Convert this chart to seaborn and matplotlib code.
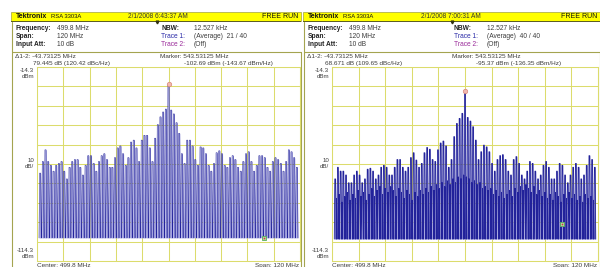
import matplotlib
matplotlib.use("Agg")
import matplotlib.pyplot as plt
import seaborn as sns
import pandas as pd
from matplotlib.patches import Rectangle

# analyzer settings
center_mhz = 499.8
span_mhz = 120.0
spike_step = 1.22
ref_top = -14.3
ref_bottom = -114.3
marker1_mhz = 543.53125

# comb line levels (dBm), one per spectral line, left to right
left_levels = [
    -69, -63, -57, -63, -65, -68, -65, -64, -63, -68,
    -72, -66, -63, -62, -62, -66, -70, -65, -60, -60,
    -64, -68, -63, -60, -59, -62, -66, -66, -61, -56,
    -55, -59, -65, -61, -53, -52, -56, -63, -52, -49.5,
    -49.5, -56, -63, -51, -44, -40, -37.5, -36,
    -23.2,
    -36.5, -38.5, -43, -48.5, -59, -64, -52, -52, -55, -62,
    -65, -55.5, -56, -59, -65, -68, -64, -58.5, -57.5, -59,
    -65, -66, -61, -60, -62, -66, -68, -63, -59, -58,
    -63, -68, -65, -60, -60, -61, -66, -68, -63, -61,
    -62, -64, -68, -63, -57, -58, -61, -66,
]
right_levels = [
    -72, -66, -68, -68, -70, -74, -74, -70, -68, -70,
    -74, -72, -67, -66.5, -68, -72, -70, -66, -65, -66,
    -70, -70, -66, -62, -62, -66, -68, -66, -61, -58.5,
    -62.3, -66, -64, -58.5, -55.8, -56.7, -62, -63, -57, -53.5,
    -52.5, -55, -66, -62, -50.2, -43.4, -40.8, -38.2,
    -26.7,
    -40.3, -42.2, -45.1, -52, -62, -58, -54.6, -55.5, -58, -64,
    -68, -62, -60, -59.5, -62, -68, -70, -62, -60.5, -64,
    -70, -72, -68, -63, -64, -68, -72, -70, -65, -63,
    -66, -72, -72, -68, -64, -65, -70, -74, -70, -66,
    -64, -66, -72, -70, -65, -60, -62, -66,
]
# averaged trace: residue between comb lines (right screen only)
right_between = [
    -82, -80, -84, -81, -79, -83, -80, -82, -78, -81,
    -79, -83, -80, -77, -81, -78, -76, -80, -77, -79,
    -76, -78, -81, -77, -79, -82, -78, -80, -83, -79,
    -81, -78, -80, -77, -79, -76, -78, -75, -77, -74,
    -76, -73, -75, -72, -74, -71, -72, -70,
    -71, -72, -74, -73, -75, -74, -77, -76,
    -78, -77, -80, -78, -81, -79, -82, -80, -78, -81,
    -77, -79, -76, -78, -75, -77, -79, -76, -80, -78,
    -81, -79, -82, -80, -83, -79, -81, -84, -80, -82,
    -79, -82, -80, -83, -81, -84, -80, -82, -81, -83,
]
left_floor = -102.4
right_floor = -103.0
left_marker1 = -102.69
right_marker1 = -95.37

dates = ["2/1/2008 6:43:37 AM", "2/1/2008 7:00:31 AM"]
averages = ["(Average)  21 / 40", "(Average)  40 / 40"]
delta_lines = ["79.445 dB (120.42 dBc/Hz)", "68.671 dB (109.65 dBc/Hz)"]
marker_lines = ["-102.69 dBm (-143.67 dBm/Hz)", "-95.37 dBm (-136.35 dBm/Hz)"]

W, H = 600, 267
OLIVE = "#a4a450"
GRID = "#dcdc6c"
LAV = "#a4a4e0"
NAVY = "#22229a"
TXT = "#3c3c3c"

sns.set_style("white")
plt.rcParams["font.family"] = ["Liberation Sans", "DejaVu Sans"]

fig = plt.figure(figsize=(6, 2.67), dpi=100)
bg = fig.add_axes([0, 0, 1, 1])
bg.set_xlim(0, W)
bg.set_ylim(H, 0)
bg.axis("off")


def build_trace(levels, between, floor):
    mid = len(levels) // 2
    xs, ys = [], []
    if between is None:
        base, top = 0.52, 0.26
    else:
        base, top = 0.40, 0.18
    for i, lvl in enumerate(levels):
        f = center_mhz + (i - mid) * spike_step
        xs += [f - base, f - top, f + top, f + base]
        ys += [floor, lvl, lvl, floor]
        if between is not None and i < len(between):
            g = f + spike_step / 2
            xs += [g - 0.16, g, g + 0.16]
            ys += [floor, between[i], floor]
    return pd.DataFrame({"freq": xs, "dbm": ys})


def draw_panel(idx, x0, x1, px0, px1, levels, between, floor, m1):
    dx = x0 - 12
    # header bar
    bg.add_patch(Rectangle((x0 - 1, 11.5), x1 - x0 + 1, 9, facecolor="#ffff00",
                           edgecolor="#8a8a30", lw=0.4))
    bg.add_patch(Rectangle((x0 - 1, 20.5), x1 - x0 + 1, 1.6, facecolor="#5e5e22", lw=0))
    bg.plot([(x0 + x1) / 2], [21.5], marker="v", ms=2, color="#303010")
    bg.text(16 + dx, 16, "Tektronix", fontsize=5, fontweight="bold", va="center", color="#111")
    bg.text(51 + dx, 16.3, "RSA 3303A", fontsize=4.2, va="center", color="#111")
    bg.text(158 + dx + idx, 16, dates[idx], fontsize=4.7, va="center", ha="center", color="#333")
    bg.text(x1 - 3, 16, "FREE RUN", fontsize=5, va="center", ha="right", color="#111")

    # settings block
    rows = [("Frequency:", "499.8 MHz"), ("Span:", "120 MHz"), ("Input Att:", "10 dB")]
    for r, (lab, val) in enumerate(rows):
        y = 29 + r * 7.5
        bg.text(16 + dx, y, lab, fontsize=4.8, fontweight="bold", va="center", color="#222")
        bg.text(57 + dx, y, val, fontsize=4.8, va="center", color=TXT)
    rx = 161 + dx + idx
    bg.text(rx, 29, "NBW:", fontsize=4.8, fontweight="bold", va="center", color="#222")
    bg.text(rx + 33, 29, "12.527 kHz", fontsize=4.8, va="center", color=TXT)
    bg.text(rx, 36.5, "Trace 1:", fontsize=4.8, va="center", color="#2a2aa8")
    bg.text(rx + 33, 36.5, averages[idx], fontsize=4.8, va="center", color=TXT)
    bg.text(rx, 44, "Trace 2:", fontsize=4.8, va="center", color="#9a2a9a")
    bg.text(rx + 33, 44, "(Off)", fontsize=4.8, va="center", color=TXT)

    # frames
    bg.plot([x0, x1], [52, 52], color=OLIVE, lw=0.8)
    bg.plot([x0, x0], [22, H], color=OLIVE, lw=0.8)
    bg.plot([x1, x1], [52, H], color=OLIVE, lw=0.8)

    # marker readout
    bg.text(15 + dx, 57, "\u03941-2: -43.73125 MHz", fontsize=4.6, va="center", color=TXT)
    bg.text(33 + dx, 63.3, delta_lines[idx], fontsize=4.6, va="center", color=TXT)
    bg.text(160 + dx, 57, "Marker: 543.53125 MHz", fontsize=4.6, va="center", color=TXT)
    bg.text(184 + dx, 63.3, marker_lines[idx], fontsize=4.6, va="center", color=TXT)

    # scale labels
    for y, t in [(70.5, "-14.3"), (76.5, "dBm"), (161, "10"), (167, "dB/"),
                 (250, "-114.3"), (256, "dBm")]:
        bg.text(px0 - 3, y, t, fontsize=4.4, va="center", ha="right", color=TXT)
    bg.text(px0, 265.5, "Center: 499.8 MHz", fontsize=4.6, va="center", color=TXT)
    bg.text(px1 - 1, 265.5, "Span: 120 MHz", fontsize=4.6, va="center", ha="right", color=TXT)

    # graticule + trace
    ax = fig.add_axes([px0 / W, 1 - 261 / H, (px1 - px0) / W, 194 / H])
    ax.set_xlim(center_mhz - span_mhz / 2, center_mhz + span_mhz / 2)
    ax.set_ylim(ref_bottom, ref_top)
    ax.set_xticks([center_mhz - span_mhz / 2 + i * span_mhz / 10 for i in range(11)])
    ax.set_yticks([ref_bottom + i * 10 for i in range(11)])
    ax.tick_params(length=0, labelbottom=False, labelleft=False)
    ax.grid(True, color=GRID, lw=0.75)
    ax.set_axisbelow(True)
    for s in ax.spines.values():
        s.set_color(GRID)
        s.set_linewidth(0.75)
    ax.patch.set_alpha(0)

    df = build_trace(levels, between, floor)
    ax.fill_between(df["freq"], df["dbm"], floor, color=LAV, lw=0, zorder=2)
    sns.lineplot(data=df, x="freq", y="dbm", sort=False, estimator=None,
                 color=NAVY, lw=0.6 if between is not None else 0.38, ax=ax, zorder=3)
    ax.set_xlabel("")
    ax.set_ylabel("")

    peak = levels[len(levels) // 2]
    ax.plot([center_mhz], [peak], "o", ms=3.2, mfc="#f2b8b0", mec="#d88878", mew=0.5, zorder=5)
    ax.plot([marker1_mhz], [m1], "s", ms=3.4, mfc="#b8dcb0", mec="#58b058", mew=0.6, zorder=5)
    ax.plot([marker1_mhz], [m1], "s", ms=1.2, mfc="#d04040", mec="none", zorder=6)


draw_panel(0, 12, 301, 37, 300, left_levels, None, left_floor, left_marker1)
draw_panel(1, 304, 600, 332, 598, right_levels, right_between, right_floor, right_marker1)

fig.savefig("out.png", dpi=100)
